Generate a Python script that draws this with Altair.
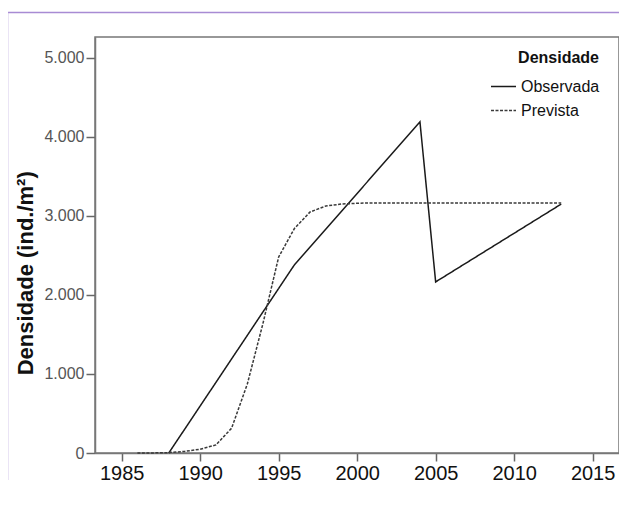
import altair as alt
import pandas as pd

# Observed density (ind./m²)
obs_years = [1988, 1996, 2004, 2005, 2013]
obs_values = [0, 2380, 4190, 2165, 3150]

# Predicted density (ind./m²)
prev_years = list(range(1986, 2014))
prev_values = [0, 1, 5, 20, 48, 102, 313, 870, 1640, 2480, 2840, 3050, 3125, 3150,
               3160, 3165, 3165, 3165, 3165, 3165, 3165, 3165, 3165, 3165, 3165,
               3165, 3165, 3165]

series_names = ["Observada", "Prevista"]
x_ticks = [1985, 1990, 1995, 2000, 2005, 2010, 2015]
y_ticks = [0, 1000, 2000, 3000, 4000, 5000]

df = pd.concat([
    pd.DataFrame({"ano": obs_years, "dens": obs_values, "serie": series_names[0]}),
    pd.DataFrame({"ano": prev_years, "dens": prev_values, "serie": series_names[1]}),
])

font = "Liberation Sans"

lines = alt.Chart(df).mark_line(strokeWidth=1.5).encode(
    x=alt.X("ano:Q",
            scale=alt.Scale(domain=[1983.3, 2016.68], nice=False, zero=False),
            axis=alt.Axis(values=x_ticks, title=None, format="d", grid=False,
                          labelFontSize=20, labelColor="#111", labelFont=font,
                          tickSize=8, tickColor="#666", tickWidth=1.5,
                          domainColor="#777", domainWidth=1.5, labelPadding=2)),
    y=alt.Y("dens:Q",
            scale=alt.Scale(domain=[0, 5264], nice=False),
            axis=alt.Axis(values=y_ticks, title="Densidade (ind./m²)", grid=False,
                          labelExpr="replace(format(datum.value, ','), ',', '.')",
                          labelFontSize=16, labelColor="#555", labelFont=font,
                          tickSize=9, tickColor="#666", tickWidth=1.5,
                          domainColor="#777", domainWidth=1.5, labelPadding=2,
                          titleFont=font, titleFontSize=22, titleFontWeight="bold",
                          titleColor="#111", titleAngle=270, titleX=-63, titleY=235.8,
                          titleAlign="center", titleBaseline="alphabetic")),
    color=alt.Color("serie:N", scale=alt.Scale(domain=series_names, range=["#1a1a1a", "#3a3a3a"]),
                    legend=alt.Legend(title="Densidade")),
    strokeDash=alt.StrokeDash("serie:N", scale=alt.Scale(domain=series_names, range=[[1, 0], [3, 1.5]]),
                              legend=alt.Legend(title="Densidade")),
    order="ano:Q",
)

one = pd.DataFrame({"k": [0]})
border_top = alt.Chart(one).mark_rule(color="#a88bd4", strokeWidth=1.5).encode(
    x=alt.value(-87.3), x2=alt.value(540), y=alt.value(-24.4))
border_left = alt.Chart(one).mark_rule(color="#b9a3dc", strokeWidth=1.2).encode(
    x=alt.value(-87.3), y=alt.value(-24.4), y2=alt.value(443))

chart = alt.layer(lines, border_top, border_left).properties(
    width=524, height=416,
    autosize=alt.AutoSizeParams(type="none"),
    padding={"left": 87, "top": 29, "right": 0, "bottom": 38},
    background="white",
).configure_view(
    stroke="#777", strokeWidth=1.5
).configure_legend(
    orient="none", legendX=395, legendY=13,
    titleFont=font, titleFontSize=16, titleFontWeight="bold", titleColor="#111",
    titleAnchor="end", titlePadding=7,
    labelFont=font, labelFontSize=16, labelColor="#111",
    symbolType="stroke", symbolSize=625, symbolStrokeWidth=1.5,
    rowPadding=2, labelOffset=4,
)

chart.save("out.html", embed_options={"renderer": "svg", "actions": False})
